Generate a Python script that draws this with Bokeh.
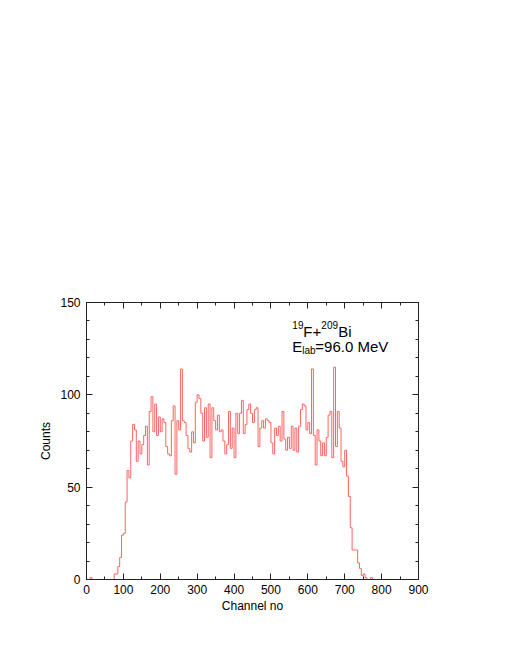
from bokeh.plotting import figure
from bokeh.models import LinearAxis, Range1d, Label, FixedTicker, CustomJSTickFormatter
from bokeh.embed import file_html
from bokeh.resources import INLINE

# ---- data: 5-channel bins, counts ----
bin_width = 5
bin_start = list(range(0, 800, bin_width))
counts = (
    [0, 0, 1, 0, 0, 0, 0, 0, 0, 0, 0, 0, 0, 0]            # 0..65
    + [0, 3, 3, 7, 12, 24, 25, 42, 59, 55]                 # 70..115
    + [75, 84, 81, 64, 75, 68, 73, 78, 83, 62]             # 120..165
    + [91, 99, 80, 95, 78, 88, 80, 87, 85, 72]             # 170..215
    + [68, 67, 86, 94, 57, 86, 81, 114, 86, 85]            # 220..265
    + [78, 71, 69, 80, 74, 96, 100, 98, 90, 75]            # 270..315
    + [93, 77, 95, 66, 93, 86, 81, 89, 80, 81]             # 320..365
    + [75, 68, 73, 91, 71, 82, 66, 90, 79, 90]             # 370..415
    + [97, 79, 84, 92, 95, 90, 85, 92, 93, 72]             # 420..465
    + [82, 86, 82, 87, 86, 85, 74, 68, 82, 78]             # 470..515
    + [83, 75, 91, 76, 70, 77, 71, 83, 70, 82]             # 520..565
    + [69, 83, 92, 95, 94, 81, 85, 79, 114, 78]            # 570..615
    + [62, 81, 75, 67, 74, 67, 77, 89, 91, 66]             # 620..665
    + [115, 72, 91, 82, 64, 61, 70, 56, 45, 28]            # 670..715
    + [16, 16, 16, 9, 6, 2, 3, 1, 0, 0]                    # 720..765
    + [1, 0, 0, 0, 0, 0]                                   # 770..795
)
x_ticks = [0, 100, 200, 300, 400, 500, 600, 700, 800, 900]
x_minor = list(range(0, 901, 50))
y_ticks = [0, 50, 100, 150]
y_minor = list(range(0, 151, 10))

step_x = bin_start + [bin_start[-1] + bin_width]
step_y = counts + [0]

p = figure(width=489, height=630, x_range=Range1d(0, 900), y_range=Range1d(0, 150),
           output_backend="svg", toolbar_location=None,
           min_border_left=86, min_border_right=71, min_border_top=302, min_border_bottom=51)
p.grid.visible = False
p.outline_line_color = "#222222"
p.background_fill_color = "white"
p.border_fill_color = "white"

p.step(step_x, step_y, mode="after", line_color="#ff6464", line_width=1)

FONT = "Liberation Sans"

def style_axis(ax, ticks, minor, show_labels):
    ax.ticker = FixedTicker(ticks=ticks, minor_ticks=minor)
    ax.major_tick_in = 6
    ax.major_tick_out = 0
    ax.minor_tick_in = 3
    ax.minor_tick_out = 0
    ax.axis_line_color = "#222222"
    ax.major_tick_line_color = "#222222"
    ax.minor_tick_line_color = "#222222"
    ax.major_label_text_font = FONT
    ax.major_label_text_font_size = "12px"
    ax.major_label_text_color = "black"
    if not show_labels:
        ax.formatter = CustomJSTickFormatter(code="return '';")
        ax.major_label_standoff = 0
    ax.axis_label_text_font = FONT
    ax.axis_label_text_font_size = "12px"
    ax.axis_label_text_font_style = "normal"
    ax.axis_label_text_color = "black"

xa = p.xaxis[0]
ya = p.yaxis[0]
style_axis(xa, x_ticks, x_minor, True)
style_axis(ya, y_ticks, y_minor, True)
xa.axis_label = "Channel no"
ya.axis_label = "Counts"
xa.major_label_standoff = 5
xa.axis_label_standoff = 2
ya.major_label_standoff = 6
ya.axis_label_standoff = 4

top = LinearAxis()
style_axis(top, x_ticks, x_minor, False)
p.add_layout(top, "above")
right = LinearAxis()
style_axis(right, y_ticks, y_minor, False)
p.add_layout(right, "right")

# ---- annotation: 19F+209Bi / E_lab=96.0 MeV ----
ax0, l1, l2 = 558, 134.2, 126.2
pieces = [
    ("19", 0, l1, 7, "10px"),
    ("F+", 11, l1, 0, "15px"),
    ("209", 29, l1, 7, "10px"),
    ("Bi", 46, l1, 0, "15px"),
    ("E", 0, l2, 0, "15px"),
    ("lab", 10, l2, -4, "10px"),
    ("=96.0 MeV", 23, l2, 0, "15px"),
]
for txt, dx, yy, dy, fs in pieces:
    p.add_layout(Label(x=ax0, y=yy, x_offset=dx, y_offset=dy, text=txt,
                       text_font=FONT, text_font_size=fs, text_color="black",
                       text_baseline="alphabetic", text_align="left"))

open("out.html", "w").write(file_html(p, INLINE))
